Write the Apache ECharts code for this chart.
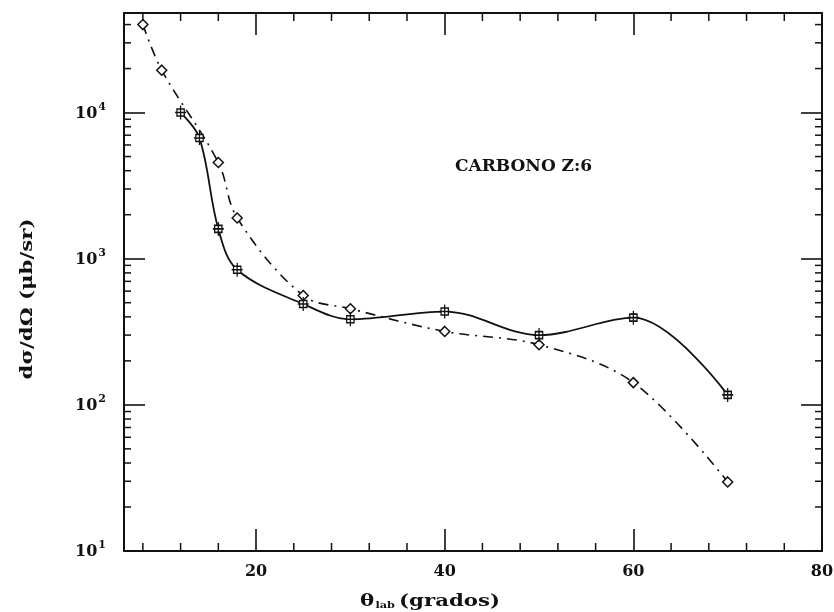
<!DOCTYPE html>
<html>
<head>
<meta charset="utf-8">
<script src="https://cdn.jsdelivr.net/npm/echarts@6/dist/echarts.min.js"></script>
<style>
  html, body { margin: 0; padding: 0; background: #fff; }
  #chart { width: 834px; height: 612px; }
</style>
</head>
<body>
<div id="chart"></div>
<script>
// Differential cross section vs. laboratory angle, carbon target (Z = 6)

// solid curve, boxed markers with error bars
const thetaSolid = [12, 14, 16, 18, 25, 30, 40, 50, 60, 70];
const sigmaSolid = [10000, 6700, 1600, 840, 490, 385, 435, 300, 395, 117];

// dash-dot curve, diamond markers
const thetaDash = [8, 10, 16, 18, 25, 30, 40, 50, 60, 70];
const sigmaDash = [40000, 19500, 4550, 1900, 560, 455, 318, 258, 142, 29.7];

// axis ticks
const xMajor = [20, 40, 60, 80];
const xMinor = [8, 12, 16, 24, 28, 32, 36, 44, 48, 52, 56, 64, 68, 72, 76];
const yMajor = [10, 100, 1000, 10000];
const yMinor = [
  20, 30, 40, 50, 60, 70, 80, 90,
  200, 300, 400, 500, 600, 700, 800, 900,
  2000, 3000, 4000, 5000, 6000, 7000, 8000, 9000,
  20000, 30000, 40000
];

const X_MIN = 6, X_MAX = 80;
const Y_MIN = 10, Y_MAX = 48000;

const INK = '#111';
const FONT = 'DejaVu Serif';

function pairs(xs, ys) {
  return xs.map((x, i) => [x, ys[i]]);
}

// short minor ticks on both opposite edges of the plot box
function minorTickSeries(values, dir, len) {
  const data = values.map(v => dir === 'x' ? [v, Y_MIN] : [X_MIN, v]);
  return {
    type: 'custom',
    data: data,
    silent: true,
    clip: false,
    z: 5,
    encode: { x: 0, y: 1 },
    renderItem: function (params, api) {
      const cs = params.coordSys;
      const st = { stroke: INK, lineWidth: 1.5 };
      if (dir === 'x') {
        const px = api.coord([api.value(0), Y_MIN])[0];
        const yb = cs.y + cs.height, yt = cs.y;
        return {
          type: 'group',
          children: [
            { type: 'line', shape: { x1: px, y1: yb, x2: px, y2: yb - len }, style: st },
            { type: 'line', shape: { x1: px, y1: yt, x2: px, y2: yt + len }, style: st }
          ]
        };
      }
      const py = api.coord([X_MIN, api.value(1)])[1];
      const xl = cs.x, xr = cs.x + cs.width;
      return {
        type: 'group',
        children: [
          { type: 'line', shape: { x1: xl, y1: py, x2: xl + len, y2: py }, style: st },
          { type: 'line', shape: { x1: xr, y1: py, x2: xr - len, y2: py }, style: st }
        ]
      };
    }
  };
}

function powerLabel(v) {
  const e = Math.round(Math.log10(v));
  return '{b|10}{e|' + e + '}';
}

const axisLineStyle = { show: true, lineStyle: { color: INK, width: 2 } };

const chart = echarts.init(document.getElementById('chart'), null, { renderer: 'canvas' });

chart.setOption({
  animation: false,
  backgroundColor: '#fff',
  grid: { left: 124, right: 12, top: 13, bottom: 61, outerBoundsMode: 'none' },
  xAxis: [
    {
      type: 'value', position: 'bottom', min: X_MIN, max: X_MAX,
      axisLine: axisLineStyle,
      splitLine: { show: false },
      axisTick: { inside: true, length: 22, customValues: xMajor, lineStyle: { color: INK, width: 1.6 } },
      axisLabel: {
        customValues: xMajor, margin: 13,
        color: INK, fontFamily: FONT, fontSize: 16, fontWeight: 'bold'
      }
    },
    {
      type: 'value', position: 'top', min: X_MIN, max: X_MAX,
      axisLine: axisLineStyle,
      splitLine: { show: false },
      axisTick: { inside: true, length: 22, customValues: xMajor, lineStyle: { color: INK, width: 1.6 } },
      axisLabel: { show: false }
    }
  ],
  yAxis: [
    {
      type: 'log', logBase: 10, position: 'left', min: Y_MIN, max: Y_MAX,
      axisLine: axisLineStyle,
      splitLine: { show: false },
      minorTick: { show: false },
      axisTick: { inside: true, length: 21, customValues: yMajor, lineStyle: { color: INK, width: 1.6 } },
      axisLabel: {
        customValues: yMajor, margin: 18,
        formatter: powerLabel,
        rich: {
          b: { color: INK, fontFamily: FONT, fontSize: 16, fontWeight: 'bold', lineHeight: 18, verticalAlign: 'bottom' },
          e: { color: INK, fontFamily: FONT, fontSize: 11, fontWeight: 'bold', lineHeight: 18, padding: [0, 0, 9, 1], verticalAlign: 'bottom' }
        }
      }
    },
    {
      type: 'log', logBase: 10, position: 'right', min: Y_MIN, max: Y_MAX,
      axisLine: axisLineStyle,
      splitLine: { show: false },
      axisTick: { inside: true, length: 21, customValues: yMajor, lineStyle: { color: INK, width: 1.6 } },
      axisLabel: { show: false }
    }
  ],
  graphic: [
    {
      type: 'text', left: 455, top: 158, silent: true,
      style: { text: 'CARBONO Z:6', fill: INK, font: 'bold 17px "DejaVu Serif"' }
    },
    {
      type: 'text', x: 28, y: 299, rotation: Math.PI / 2, scaleX: 1.25, silent: true,
      style: {
        text: 'dσ/dΩ (μb/sr)', fill: INK, font: 'bold 17px "DejaVu Serif"',
        align: 'center', verticalAlign: 'middle'
      }
    },
    {
      type: 'text', x: 430, y: 600, scaleX: 1.25, silent: true,
      style: {
        text: '{t|θ}{s|lab} {t|(grados)}',
        align: 'center', verticalAlign: 'middle',
        rich: {
          t: { fill: INK, fontFamily: FONT, fontSize: 17, fontWeight: 'bold', lineHeight: 20, verticalAlign: 'bottom' },
          s: { fill: INK, fontFamily: FONT, fontSize: 9, fontWeight: 'bold', lineHeight: 20, padding: [0, 0, 0, 1], verticalAlign: 'bottom' }
        }
      }
    }
  ],
  series: [
    minorTickSeries(xMinor, 'x', 8),
    minorTickSeries(yMinor, 'y', 7),
    {
      type: 'line',
      name: 'dash-dot',
      data: pairs(thetaDash, sigmaDash),
      smooth: 0.35,
      z: 3,
      symbol: 'diamond',
      symbolSize: 10,
      itemStyle: { color: '#fff', borderColor: INK, borderWidth: 1.5 },
      lineStyle: { color: INK, width: 1.6, type: [10, 6, 2, 6] }
    },
    {
      type: 'line',
      name: 'solid',
      data: pairs(thetaSolid, sigmaSolid),
      smooth: 0.35,
      z: 4,
      symbol: 'path://M2,4H10V12H2Z M6,0V16 M0,8H12',
      symbolSize: [11, 14],
      itemStyle: { color: '#fff', borderColor: INK, borderWidth: 1.4 },
      lineStyle: { color: INK, width: 1.8 }
    }
  ]
});
</script>
</body>
</html>
